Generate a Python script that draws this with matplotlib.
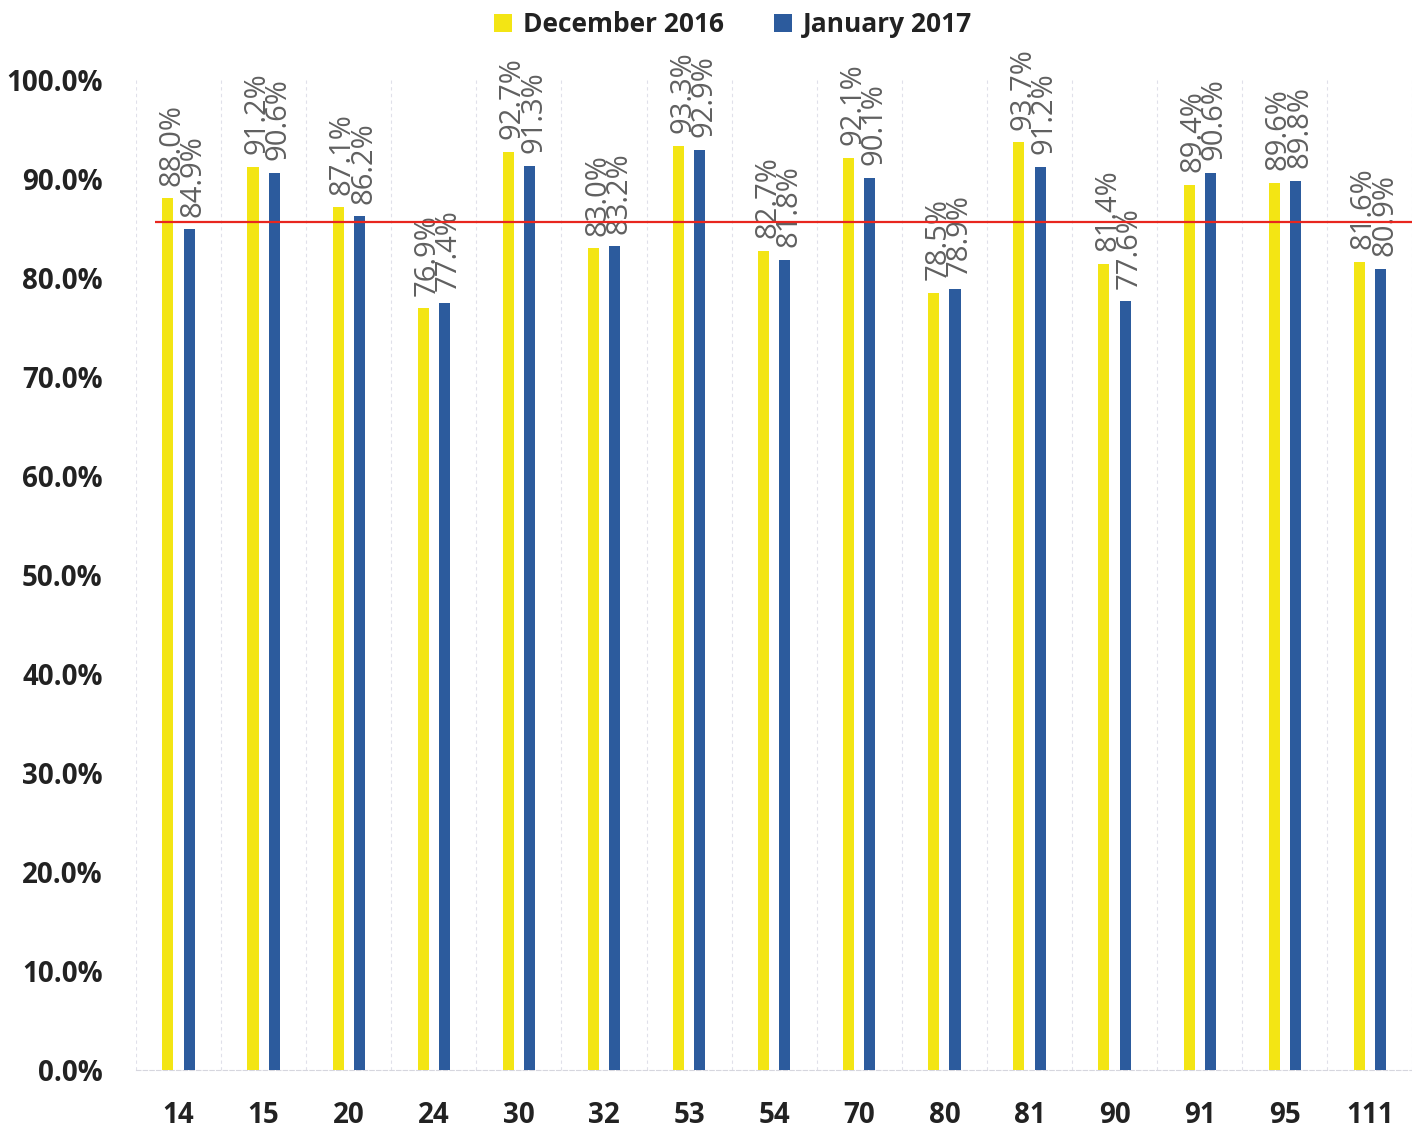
import matplotlib.pyplot as plt
import numpy as np

# service codes on the x axis
kodikoi = ["14", "15", "20", "24", "30", "32", "53", "54", "70", "80", "81", "90", "91", "95", "111"]
dek_2016 = [88.0, 91.2, 87.1, 76.9, 92.7, 83.0, 93.3, 82.7, 92.1, 78.5, 93.7, 81.4, 89.4, 89.6, 81.6]
ian_2017 = [84.9, 90.6, 86.2, 77.4, 91.3, 83.2, 92.9, 81.8, 90.1, 78.9, 91.2, 77.6, 90.6, 89.8, 80.9]
stoxos = 85.6

kitrino = "#F3E514"
mple = "#2C5B9D"
gkri = "#606060"

plt.rcParams['font.family'] = ['Open Sans', 'DejaVu Sans']

fig = plt.figure(figsize=(14.12, 11.28), dpi=100)
ax = fig.add_axes([0.0963, 0.0514, 0.904, 0.878])

x = np.arange(len(kodikoi))
w = 0.13
b1 = ax.bar(x - 0.125, dek_2016, w, color=kitrino, label="December 2016", zorder=3)
b2 = ax.bar(x + 0.125, ian_2017, w, color=mple, label="January 2017", zorder=3)

for bars, vals in ((b1, dek_2016), (b2, ian_2017)):
    for r, v in zip(bars, vals):
        ax.annotate(f"{v:.1f}%", (r.get_x() + r.get_width() / 2, v),
                    xytext=(3, 9), textcoords="offset points",
                    rotation=90, ha="center", va="bottom",
                    fontsize=21, color=gkri, annotation_clip=False)

# target line
ax.hlines(stoxos, -0.28, 14.6, color="#E8261E", lw=1.6, zorder=4)

ax.set_xlim(-0.5, 14.44)
ax.set_ylim(0, 100)
ax.set_yticks(np.arange(0, 101, 10))
ax.set_yticklabels([f"{t:.1f}%" for t in np.arange(0, 101, 10)],
                   fontsize=20, fontweight="bold", color="#222222")
ax.set_xticks(x)
ax.set_xticklabels(kodikoi, fontsize=20, fontweight="bold", color="#222222")
ax.tick_params(axis="both", length=0)
ax.tick_params(axis="x", pad=22)
ax.tick_params(axis="y", pad=24)

ax.set_xticks(list(x + 0.5) + [-0.5], minor=True)
ax.tick_params(axis="x", which="minor", length=0)
ax.grid(axis="x", which="minor", color="#E0E0EA", lw=0.8, ls=(0, (3, 3)), zorder=0)

for s in ["top", "right", "left"]:
    ax.spines[s].set_visible(False)
ax.spines["bottom"].set_color("#D6D6DE")
ax.spines["bottom"].set_linestyle((0, (4, 2)))

leg = fig.legend(handles=[b1, b2], loc="upper center", bbox_to_anchor=(0.519, 1.011),
                 ncol=2, frameon=False, handlelength=0.7, handleheight=0.7,
                 handletextpad=0.4, columnspacing=1.9,
                 prop={"size": 19, "weight": "bold"})
for t in leg.get_texts():
    t.set_color("#222222")

fig.savefig("out.png", dpi=100)
